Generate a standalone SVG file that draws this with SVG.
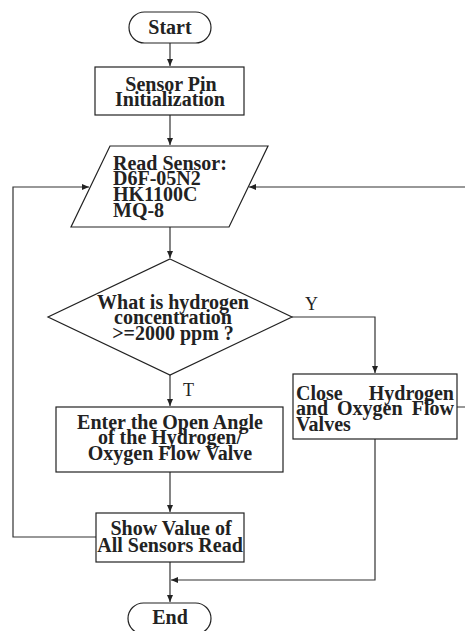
<svg xmlns="http://www.w3.org/2000/svg" width="465" height="631" viewBox="0 0 465 631">
<style>
.s{fill:#fff;stroke:#222;stroke-width:1.2}
.t{font-family:"Liberation Serif","Times New Roman",serif;font-weight:bold;font-size:20px;fill:#222}
.l{font-family:"Liberation Serif","Times New Roman",serif;font-size:18px;fill:#222}
.c{fill:none;stroke:#333;stroke-width:1.2}
</style>
<defs>
<marker id="a" markerWidth="8" markerHeight="8" refX="7" refY="4" orient="auto" markerUnits="userSpaceOnUse">
<path d="M0,1 L7,4 L0,7 Z" fill="#222"/>
</marker>
</defs>
<rect width="465" height="631" fill="#fff"/>
<g id="connectors">
<path class="c" d="M170,43 V66" marker-end="url(#a)"/>
<path class="c" d="M170,115 V145" marker-end="url(#a)"/>
<path class="c" d="M170,227 V258" marker-end="url(#a)"/>
<path class="c" d="M292,317 H375 V373" marker-end="url(#a)"/>
<path class="c" d="M170,375 V406" marker-end="url(#a)"/>
<path class="c" d="M170,472 V512" marker-end="url(#a)"/>
<path class="c" d="M170,562 V602" marker-end="url(#a)"/>
<path class="c" d="M96,537 H13 V187 H89" marker-end="url(#a)"/>
<path class="c" d="M457,407 H467 V187 H249" marker-end="url(#a)"/>
<path class="c" d="M375,439 V580 H171" marker-end="url(#a)"/>
<text class="l" x="305" y="310">Y</text>
<text class="l" x="183" y="396">T</text>
</g>
<g id="start">
<rect class="s" x="129" y="12" width="82" height="31" rx="15.5"/>
<text class="t" x="170" y="34" text-anchor="middle">Start</text>
</g>
<g id="init">
<rect class="s" x="95" y="67" width="149" height="48"/>
<text class="t" x="171" y="91" text-anchor="middle">Sensor Pin</text>
<text class="t" x="170" y="106" text-anchor="middle">Initialization</text>
</g>
<g id="read">
<polygon class="s" points="110,146 268,146 229,227 71,227"/>
<text class="t" x="113" y="170">Read Sensor:</text>
<text class="t" x="113" y="185">D6F-05N2</text>
<text class="t" x="113" y="201">HK1100C</text>
<text class="t" x="113" y="217">MQ-8</text>
</g>
<g id="decision">
<polygon class="s" points="170,259 292,317 170,375 48,317"/>
<text class="t" x="173" y="309" text-anchor="middle">What is hydrogen</text>
<text class="t" x="173" y="324" text-anchor="middle">concentration</text>
<text class="t" x="173" y="340" text-anchor="middle">&gt;=2000 ppm ?</text>
</g>
<g id="close">
<rect class="s" x="293" y="374" width="164" height="65"/>
<text class="t" x="296" y="400">Close</text>
<text class="t" x="454" y="400" text-anchor="end">Hydrogen</text>
<text class="t" x="296" y="415">and</text>
<text class="t" x="337" y="415">Oxygen</text>
<text class="t" x="454" y="415" text-anchor="end">Flow</text>
<text class="t" x="296" y="431">Valves</text>
</g>
<g id="enter">
<rect class="s" x="56" y="407" width="227" height="65"/>
<text class="t" x="170" y="429" text-anchor="middle">Enter the Open Angle</text>
<text class="t" x="170" y="444" text-anchor="middle">of the Hydrogen/</text>
<text class="t" x="170" y="460" text-anchor="middle">Oxygen Flow Valve</text>
</g>
<g id="show">
<rect class="s" x="96" y="513" width="148" height="49"/>
<text class="t" x="171" y="535" text-anchor="middle">Show Value of</text>
<text class="t" x="170" y="552" text-anchor="middle">All Sensors Read</text>
</g>
<g id="end">
<rect class="s" x="128" y="603" width="83" height="31" rx="15.5"/>
<text class="t" x="170" y="624" text-anchor="middle">End</text>
</g>
</svg>
